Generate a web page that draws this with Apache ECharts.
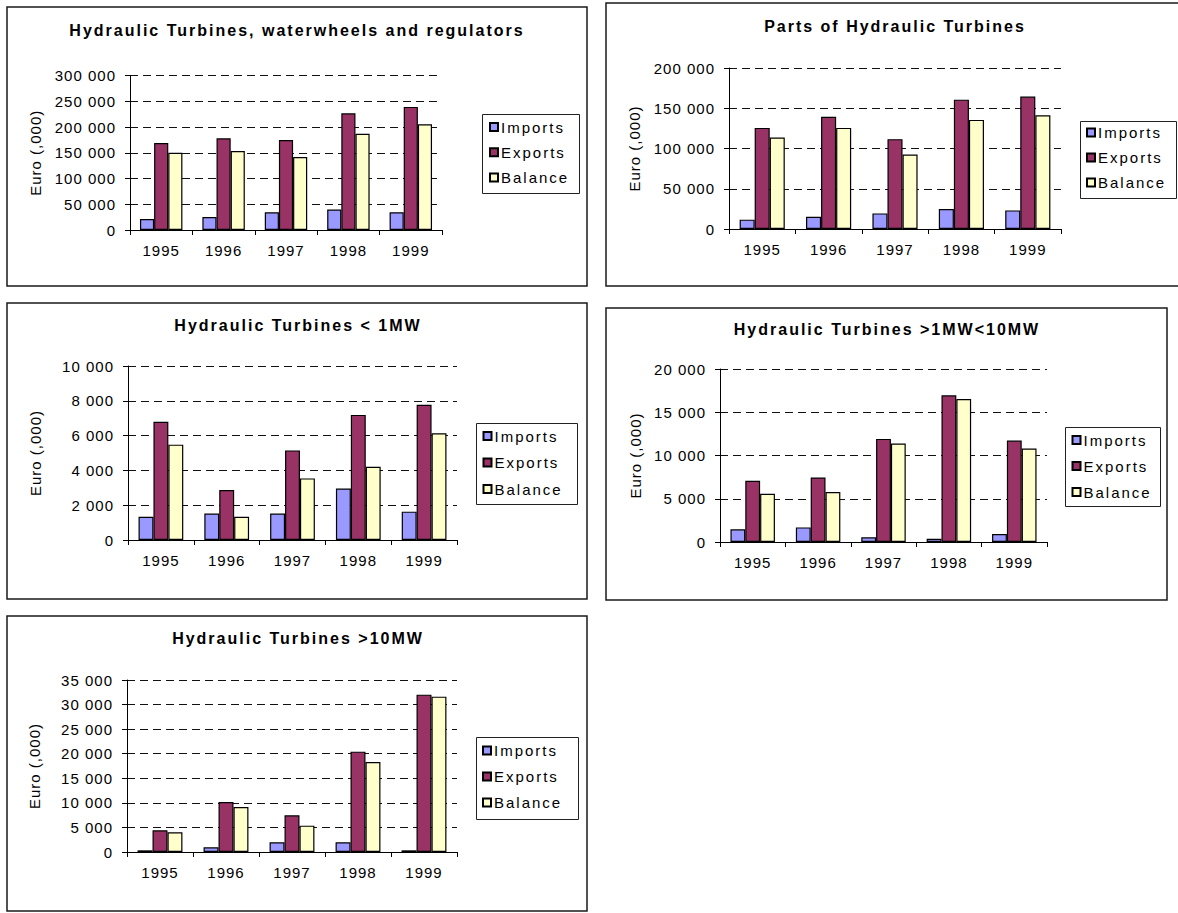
<!DOCTYPE html>
<html>
<head>
<meta charset="utf-8">
<script src="https://cdn.jsdelivr.net/npm/echarts@6/dist/echarts.min.js"></script>
<style>
  html, body { margin: 0; padding: 0; background: #fff; }
  #charts { width: 1178px; height: 913px; }
  /* Excel-style widely spaced lettering */
  #charts text { letter-spacing: 1px; }
  #charts text[style*="bold"] { letter-spacing: 2px; }
  #charts text[style*="Arial"] { letter-spacing: 2px; }
</style>
</head>
<body>
<div id="charts"></div>
<script>
// Trade in hydraulic turbines, Euro (,000)
const years = ['1995', '1996', '1997', '1998', '1999'];
const seriesNames = ['Imports', 'Exports', 'Balance'];

// Hydraulic turbines, waterwheels and regulators
const turbImports = [21400, 25300, 34400, 39600, 34400];
const turbExports = [168800, 178000, 174700, 226600, 239000];
const turbBalance = [150000, 153200, 141600, 187000, 205200];

// Parts of hydraulic turbines
const partsImports = [11600, 15300, 19400, 24800, 23100];
const partsExports = [125600, 139300, 111600, 160700, 164500];
const partsBalance = [113600, 125600, 92600, 135500, 141300];

// Turbines < 1MW
const smallImports = [1330, 1520, 1520, 2960, 1630];
const smallExports = [6790, 2870, 5150, 7190, 7770];
const smallBalance = [5480, 1330, 3540, 4210, 6130];

// Turbines > 1MW < 10MW
const midImports = [1460, 1690, 540, 380, 920];
const midExports = [7080, 7460, 11920, 16960, 11730];
const midBalance = [5580, 5770, 11380, 16540, 10810];

// Turbines > 10MW
const largeImports = [340, 950, 1970, 1970, 340];
const largeExports = [4410, 10180, 7460, 20420, 32020];
const largeBalance = [4000, 9160, 5360, 18320, 31610];

const titles = [
  'Hydraulic Turbines, waterwheels and regulators',
  'Parts of Hydraulic Turbines',
  'Hydraulic Turbines < 1MW',
  'Hydraulic Turbines >1MW<10MW',
  'Hydraulic Turbines >10MW'
];
const axisMax = [300000, 200000, 10000, 20000, 35000];
const axisStep = [50000, 50000, 2000, 5000, 5000];
const yAxisName = 'Euro (,000)';

const panelData = [
  [turbImports, turbExports, turbBalance],
  [partsImports, partsExports, partsBalance],
  [smallImports, smallExports, smallBalance],
  [midImports, midExports, midBalance],
  [largeImports, largeExports, largeBalance]
];

// Page layout of the five panels
const layout = [
  { box: [7, 7, 580, 279], grid: { left: 130, top: 75.5, width: 312, height: 154.5 }, tx: 297, ty: 30,
    lbox: [482, 114, 97, 79], lpos: [489, 127], lgap: 10.3, nameGap: 87 },
  { box: [606, 3, 600, 283], grid: { left: 729, top: 68, width: 332, height: 161 }, tx: 895, ty: 26.5,
    lbox: [1080, 121, 96, 77], lpos: [1086, 132.5], lgap: 10, nameGap: 87 },
  { box: [7, 303, 580, 296], grid: { left: 128, top: 366, width: 329, height: 174 }, tx: 298, ty: 325.5,
    lbox: [476, 423, 101, 81], lpos: [482.5, 436], lgap: 11.5, nameGap: 85 },
  { box: [606, 308, 561, 292], grid: { left: 720, top: 369, width: 327, height: 173 }, tx: 887, ty: 329.5,
    lbox: [1065, 427, 95, 79], lpos: [1071.5, 440], lgap: 11, nameGap: 77 },
  { box: [7, 616, 580, 295], grid: { left: 127, top: 680, width: 330, height: 172 }, tx: 298, ty: 638.5,
    lbox: [476, 737, 102, 82], lpos: [482, 750.5], lgap: 11, nameGap: 85 }
];

const colors = ['#9999FF', '#993366', '#FFFFCC'];
const FONT = 'Liberation Sans';
const LEGEND_FONT = 'Liberation Sans, Arial';

function spaced(v) {
  return String(v).replace(/\B(?=(\d{3})+(?!\d))/g, ' ');
}

const option = {
  animation: false,
  backgroundColor: '#fff',
  title: [], grid: [], xAxis: [], yAxis: [], legend: [], series: [], graphic: []
};

layout.forEach((p, i) => {
  // panel frame and legend frame
  option.graphic.push({
    type: 'rect', silent: true, z: 0,
    shape: { x: p.box[0], y: p.box[1], width: p.box[2], height: p.box[3] },
    style: { fill: 'none', stroke: '#1a1a1a', lineWidth: 1.5 }
  });
  option.graphic.push({
    type: 'rect', silent: true, z: 0,
    shape: { x: p.lbox[0] + 0.5, y: p.lbox[1] + 0.5, width: p.lbox[2], height: p.lbox[3] },
    style: { fill: '#fff', stroke: '#222', lineWidth: 1 }
  });

  option.title.push({
    text: titles[i], left: p.tx, top: p.ty - 8, textAlign: 'center', padding: 0,
    textStyle: { fontFamily: FONT, fontSize: 16, fontWeight: 'bold', color: '#000', lineHeight: 16 }
  });

  option.grid.push(Object.assign({ containLabel: false, outerBoundsMode: 'none' }, p.grid));

  option.xAxis.push({
    type: 'category', gridIndex: i, data: years, boundaryGap: true,
    axisLine: { show: true, lineStyle: { color: '#000', width: 1 } },
    axisTick: { show: true, length: 5, lineStyle: { color: '#000' } },
    axisLabel: { color: '#000', fontFamily: FONT, fontSize: 15, margin: 13, interval: 0 },
    splitLine: { show: false }
  });

  option.yAxis.push({
    type: 'value', gridIndex: i, min: 0, max: axisMax[i], interval: axisStep[i],
    name: yAxisName, nameLocation: 'middle', nameRotate: 90, nameGap: p.nameGap,
    nameTextStyle: { color: '#000', fontFamily: FONT, fontSize: 15 },
    axisLine: { show: true, lineStyle: { color: '#000', width: 1 } },
    axisTick: { show: true, length: 5, lineStyle: { color: '#000' } },
    axisLabel: { color: '#000', fontFamily: FONT, fontSize: 15, margin: 14, formatter: spaced },
    splitLine: { show: true, lineStyle: { color: '#111', width: 1, type: [8, 5] } }
  });

  option.legend.push({
    orient: 'vertical', left: p.lpos[0], top: p.lpos[1] - 7.5, padding: 0,
    itemWidth: 8, itemHeight: 8, itemGap: p.lgap, icon: 'rect',
    data: seriesNames, selectedMode: false, z: 5,
    textStyle: { color: '#000', fontFamily: LEGEND_FONT, fontSize: 15, padding: [0, 0, 0, -2] }
  });

  panelData[i].forEach((values, k) => {
    option.series.push({
      type: 'bar', name: seriesNames[k], xAxisIndex: i, yAxisIndex: i, data: values,
      barGap: '0%', barCategoryGap: '32%',
      itemStyle: { color: colors[k], borderColor: '#000', borderWidth: 1.2 },
      emphasis: { disabled: true }
    });
  });
});

const chart = echarts.init(document.getElementById('charts'), null, { renderer: 'svg', width: 1178, height: 913 });
chart.setOption(option);
</script>
</body>
</html>
